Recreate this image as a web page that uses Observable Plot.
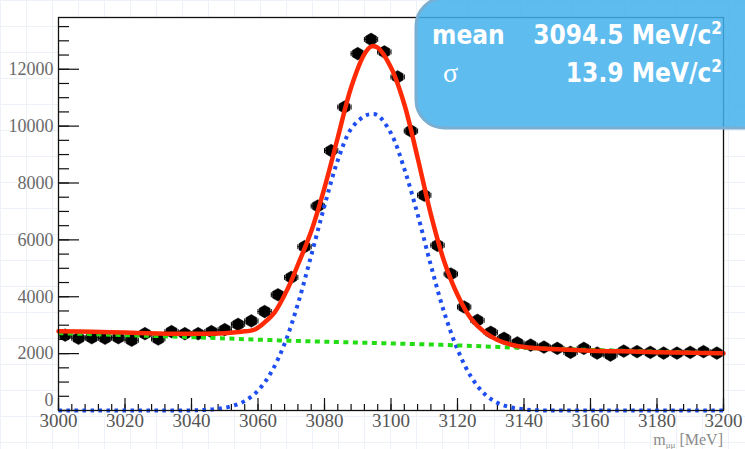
<!DOCTYPE html>
<html><head><meta charset="utf-8">
<script src="https://cdn.jsdelivr.net/npm/d3@7"></script>
<script src="https://cdn.jsdelivr.net/npm/@observablehq/plot@0.6"></script>
<style>
html,body{margin:0;padding:0;}
body{width:745px;height:449px;overflow:hidden;position:relative;background-color:#fff;
 background-image:linear-gradient(#edf2f8 1px, transparent 1px),linear-gradient(90deg,#edf2f8 1px,transparent 1px);
 background-size:26px 26px;}
#chart{position:absolute;left:0;top:0;}
#overlay{position:absolute;left:0;top:0;pointer-events:none;}
</style></head><body>
<div id="chart"></div>
<svg id="overlay" width="745" height="449">
  <rect x="416" y="-2" width="360" height="130" rx="28" ry="28" fill="rgb(66,176,236)" fill-opacity="0.85" stroke="#7aaed2" stroke-width="3"/>
  <text x="432" y="44" font-family="DejaVu Sans Condensed" font-weight="bold" font-size="26" fill="white">mean</text>
  <text x="722" y="44" text-anchor="end" font-family="DejaVu Sans Condensed" font-weight="bold" font-size="26" fill="white">3094.5 MeV/c<tspan dy="-10" font-size="17">2</tspan></text>
  <text x="443" y="82" font-family="Liberation Serif" font-size="28" fill="white">σ</text>
  <text x="722" y="82" text-anchor="end" font-family="DejaVu Sans Condensed" font-weight="bold" font-size="26" fill="white">13.9 MeV/c<tspan dy="-10" font-size="17">2</tspan></text>
  <text x="723" y="445" text-anchor="end" font-family="Liberation Serif" font-size="16" fill="#8a8a8a">m<tspan font-size="9" dy="3">μμ</tspan><tspan dy="-3"> [MeV]</tspan></text>
</svg>
<script>
// ---- data ----
const binCenters = [3002,3006,3010,3014,3018,3022,3026,3030,3034,3038,3042,3046,3050,3054,3058,3062,3066,3070,3074,3078,
  3082,3086,3090,3094,3098,3102,3106,3110,3114,3118,3122,3126,3130,3134,3138,3142,3146,3150,3154,3158,
  3162,3166,3170,3174,3178,3182,3186,3190,3194,3198];
const counts = [2650,2540,2560,2540,2560,2470,2700,2515,2775,2700,2700,2775,2845,3030,3150,3480,4070,4680,5760,7190,
  9140,10670,12550,13050,12610,11730,9830,7570,5810,4800,3640,3170,2750,2540,2375,2300,2230,2185,2045,2185,
  2020,1950,2090,2070,2045,2020,2020,2045,2070,2020];
const binHalfWidth = 2;

const fitX = [3000,3010,3020,3030,3040,3050,3055,3059,3062,3065,3069,3072,3076,3080,3084,3088,3092,3094,3096,3100,
  3104,3108,3112,3116,3120,3124,3128,3132,3136,3140,3150,3160,3170,3180,3190,3200];
const fitY = [2790,2770,2740,2710,2700,2720,2770,2850,3100,3450,4300,5125,6300,7830,9600,11360,12530,12800,12760,12060,
  10770,8890,6890,5240,4070,3240,2770,2480,2320,2230,2150,2100,2080,2050,2030,2010];

const sigX = [3000,3010,3020,3030,3040,3044,3048,3052,3056,3060,3064,3068,3072,3076,3080,3084,3088,3092,3094,3096,
  3100,3104,3108,3112,3116,3120,3124,3128,3132,3136,3140,3144,3150,3160,3170,3180,3190,3200];
const sigY = [0,0,0,0,5,20,60,150,330,700,1350,2350,3750,5450,7200,8800,9900,10350,10420,10380,
  9750,8500,6900,5100,3450,2150,1200,600,270,110,40,10,0,0,0,0,0,0];

const bkgX = [3000,3020,3040,3060,3080,3100,3120,3140,3160,3180,3200];
const bkgY = [2720,2650,2580,2490,2420,2360,2290,2200,2130,2070,2010];

const xMajorTicks = [3000,3020,3040,3060,3080,3100,3120,3140,3160,3180,3200];
const yMajorTicks = [0,2000,4000,6000,8000,10000,12000];

// ---- build tables ----
const points = binCenters.map((x,i)=>({x, y:counts[i]}));
const capPts = points.flatMap(d=>[{x:d.x-binHalfWidth,y:d.y},{x:d.x+binHalfWidth,y:d.y}]);
const fit = fitX.map((x,i)=>({x,y:fitY[i]}));
const sig = sigX.map((x,i)=>({x,y:sigY[i]}));
const bkg = bkgX.map((x,i)=>({x,y:bkgY[i]}));

const W=745,H=449,mL=58,mR=22,mT=17,mB=39;
const plotW=W-mL-mR, plotH=H-mT-mB;
const xDomain=[3000,3200], yDomain=[0,13820];
const xMinor=d3.range(xDomain[0],xDomain[1]+0.1,4);
const yMinor=d3.range(0,yDomain[1],500);

const vbar = {draw(ctx,size){ ctx.moveTo(0,-2.5); ctx.lineTo(0,2.5); }};

const chart = Plot.plot({
  width:W, height:H, marginLeft:mL, marginRight:mR, marginTop:mT, marginBottom:mB,
  style:{background:"transparent", overflow:"visible"},
  x:{domain:xDomain}, y:{domain:yDomain},
  marks:[
    Plot.frame({fill:"white", stroke:null}),
    Plot.axisY(yMajorTicks.filter(d=>d>0),{anchor:"left", tickSize:0, tickPadding:5, fontSize:18, color:"#6a6a6a", tickFormat:d3.format("d"), label:null}),
    Plot.axisY([0],{anchor:"left", tickSize:0, tickPadding:5, dy:-10, fontSize:17, color:"#6a6a6a", tickFormat:d3.format("d"), label:null}),
    Plot.axisX(xMajorTicks,{anchor:"bottom", tickSize:0, tickPadding:3, fontSize:19, color:"#555", tickFormat:d3.format("d"), label:null}),
    Plot.ruleY(yMinor,{y:d=>d, stroke:"#111", strokeWidth:1.2, insetRight:plotW-11}),
    Plot.ruleY(yMajorTicks,{y:d=>d, stroke:"#111", strokeWidth:1.2, insetRight:plotW-21}),
    Plot.ruleX(xMinor,{x:d=>d, stroke:"#111", strokeWidth:1.2, insetTop:plotH-6}),
    Plot.ruleX(xMajorTicks,{x:d=>d, stroke:"#111", strokeWidth:1.2, insetTop:plotH-12}),
    Plot.ruleY(points,{x1:d=>d.x-binHalfWidth, x2:d=>d.x+binHalfWidth, y:"y", stroke:"black", strokeWidth:1}),
    Plot.dot(capPts,{x:"x", y:"y", symbol:vbar, stroke:"black", strokeWidth:1, fill:"none"}),
    Plot.dot(points,{x:"x", y:"y", r:5.5, symbol:"hexagon", fill:"black", stroke:"black", strokeWidth:0.5}),
    Plot.line(sig,{x:"x", y:"y", stroke:"#1e4ef2", strokeWidth:4, strokeDasharray:"3.5,4.5", strokeLinecap:"butt", curve:"catmull-rom"}),
    Plot.line(bkg,{x:"x", y:"y", stroke:"#22dd14", strokeWidth:4, strokeDasharray:"5,4.5", strokeLinecap:"butt", curve:"catmull-rom"}),
    Plot.line(fit,{x:"x", y:"y", stroke:"#ff2a05", strokeWidth:4.5, curve:"catmull-rom"}),
    Plot.frame({stroke:"#111", strokeWidth:1.3})
  ]
});
chart.querySelectorAll("text").forEach(t=>{
  const g = t.closest("g");
  const isX = g && (g.getAttribute("aria-label")||"").includes("x-axis");
  t.style.fontFamily = '"Liberation Serif", serif';
  t.style.fontSize = isX ? "19px" : "18px";
});
document.getElementById("chart").appendChild(chart);
</script>
</body></html>
